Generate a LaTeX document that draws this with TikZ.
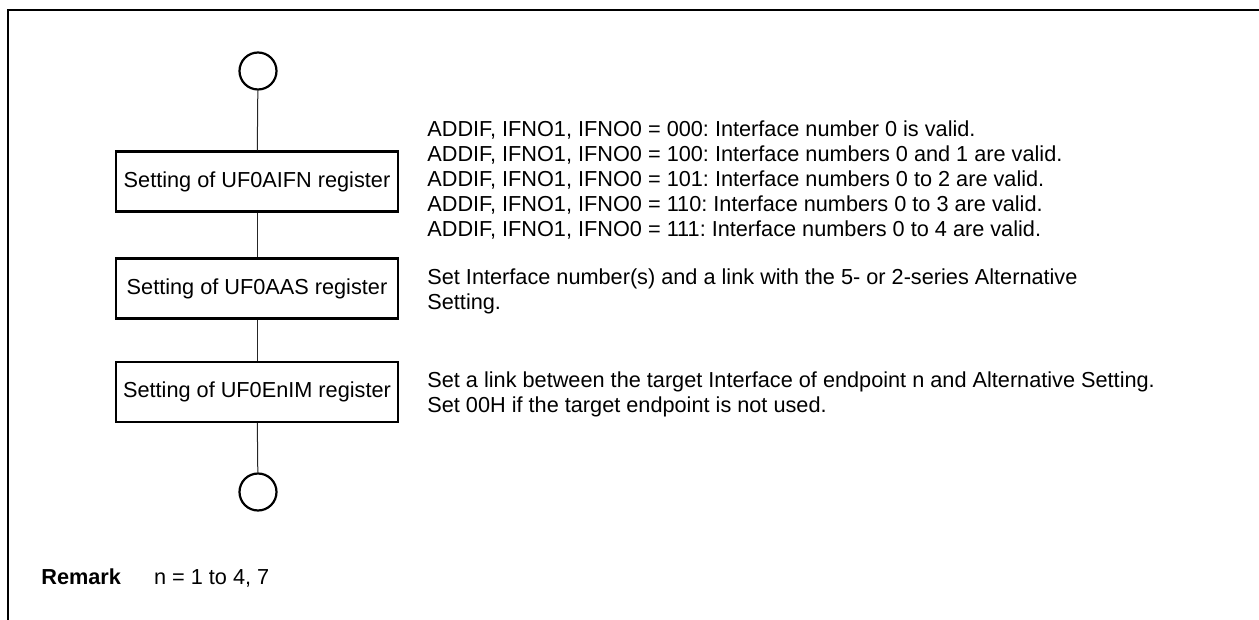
\documentclass[tikz,border=0pt]{standalone}
\usepackage{fontspec}
\setmainfont{Liberation Sans}
\usepackage{tikz}
\usetikzlibrary{positioning}
\frenchspacing
\tikzset{
  Rbox/.style={draw, line width=1.1pt, minimum width=141pt, minimum height=30pt,
               inner sep=2pt, align=center},
  Term/.style={draw, circle, line width=1.1pt, minimum size=18.5pt, inner sep=0pt},
  Note/.style={anchor=north west, inner sep=0pt, align=left},
  Flow/.style={line width=0.5pt, draw=black!85}
}

\begin{document}
\begin{tikzpicture}[x=0.5pt, y=-0.5pt,
  every node/.style={font=\fontsize{10.85}{12.5}\selectfont}]
  \useasboundingbox (0,0) rectangle (1259,620);
  % open frame
  \draw[line width=0.9pt] (8,620) -- (8,10) -- (1259,10);

  \node[Term] (start) at (258,71) {};
  \node[Rbox] (ifn) at (257,181.5) {Setting of UF0AIFN register};
  \node[Rbox] (aas) at (257,288.5) {Setting of UF0AAS register};
  \node[Rbox] (eim) at (257,392) {Setting of UF0EnIM register};
  \node[Term] (stop) at (258,492) {};

  \draw[Flow] (start) -- (ifn);
  \draw[Flow] (ifn) -- (aas);
  \draw[Flow] (aas) -- (eim);
  \draw[Flow] (eim) -- (stop);

  \node[Note] (ifnnote) at (427,120)
    {ADDIF, IFNO1, IFNO0 = 000: Interface number 0 is valid.\\
     ADDIF, IFNO1, IFNO0 = 100: Interface numbers 0 and 1 are valid.\\
     ADDIF, IFNO1, IFNO0 = 101: Interface numbers 0 to 2 are valid.\\
     ADDIF, IFNO1, IFNO0 = 110: Interface numbers 0 to 3 are valid.\\
     ADDIF, IFNO1, IFNO0 = 111: Interface numbers 0 to 4 are valid.};
  \node[Note] (aasnote) at (427,268)
    {Set Interface number(s) and a link with the 5- or 2-series Alternative\\
     Setting.};
  \node[Note] (eimnote) at (427,371)
    {Set a link between the target Interface of endpoint n and Alternative Setting.\\
     Set 00H if the target endpoint is not used.};

  \node[anchor=base west, inner sep=0pt] (remark) at (41,584)
    {\textbf{Remark}\hspace{16.5pt}n = 1 to 4, 7};
\end{tikzpicture}
\end{document}
